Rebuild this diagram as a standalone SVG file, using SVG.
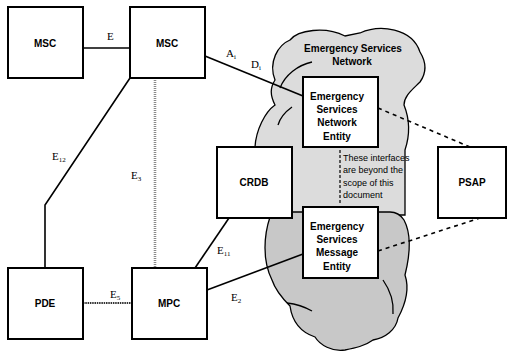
<svg xmlns="http://www.w3.org/2000/svg" width="510" height="354" viewBox="0 0 510 354">
<style>
.box{fill:#fff;stroke:#000;stroke-width:2}
.t{font-family:"Liberation Sans",Arial,sans-serif;font-weight:bold;font-size:10px;fill:#000;text-anchor:middle}
.s{font-family:"Liberation Sans",Arial,sans-serif;font-size:9px;fill:#000}
.l{font-family:"Liberation Serif","Times New Roman",serif;font-size:11px;fill:#000}
.sub{font-size:7px}
.ln{stroke:#000;stroke-width:1.6;fill:none}
.dash{stroke:#000;stroke-width:1.6;fill:none;stroke-dasharray:4 4}
.cl{stroke:#000;stroke-width:1.3}
</style>
<rect width="510" height="354" fill="#fff"/>
<g id="cloud">
<path class="cl" fill="#dcdcdc" d="M275,80 C268,62 278,45 290,40 C298,30 325,26 345,36 L360,33 C380,24 412,28 420,52 C428,65 425,75 420,82 C412,90 404,96 404,105 C410,120 410,135 405,150 L405,215 L270,215 C262,200 254,175 255,147 C256,130 265,112 275,105 C270,95 270,88 275,80 Z"/>
<path class="cl" fill="none" d="M280,88 C285,75 298,65 312,62"/>
<path class="cl" fill="none" d="M292,107 C285,112 280,118 278,125"/>
<path class="cl" fill="#c8c8c8" d="M270,217 C264,235 262,260 272,280 C276,292 284,300 290,306 C292,320 300,332 315,337 C320,345 332,352 345,350 C355,348 365,346 373,340 C385,338 396,330 398,318 C405,305 410,290 405,275 C410,255 412,235 404,220 C400,214 395,212 390,212 L275,212 Z"/>
<path class="cl" fill="none" d="M287,303 C296,304 305,307 312,311"/>
<path class="cl" fill="none" d="M383,280 C390,290 394,302 393,314"/>
</g>
<g id="connectors">
<line class="ln" x1="83" y1="48" x2="130" y2="48"/>
<text class="l" x="107" y="40">E</text>
<line class="ln" x1="205" y1="56" x2="303" y2="96"/>
<text class="l" x="226" y="57">A<tspan class="sub" dy="2">i</tspan></text>
<text class="l" x="251" y="68">D<tspan class="sub" dy="2">i</tspan></text>
<polyline class="ln" points="130,78 45,205 45,268"/>
<text class="l" x="52" y="160">E<tspan class="sub" dy="2">12</tspan></text>
<line x1="155" y1="78" x2="155" y2="268" stroke="#8a8a8a" stroke-width="2.6" stroke-dasharray="1 1"/>
<text class="l" x="131" y="179">E<tspan class="sub" dy="2">3</tspan></text>
<line x1="83" y1="303" x2="132" y2="303" stroke="#333" stroke-width="1.8" stroke-dasharray="1.5 0.8"/>
<text class="l" x="110" y="298">E<tspan class="sub" dy="2">5</tspan></text>
<line class="ln" x1="195" y1="268" x2="229" y2="218"/>
<text class="l" x="217" y="254">E<tspan class="sub" dy="2">11</tspan></text>
<line class="ln" x1="207" y1="290" x2="303" y2="254"/>
<text class="l" x="231" y="301">E<tspan class="sub" dy="2">2</tspan></text>
<line class="dash" x1="378" y1="108" x2="470" y2="147"/>
<line class="dash" x1="378" y1="251" x2="480" y2="218"/>
<line x1="340" y1="150" x2="340" y2="205" stroke="#000" stroke-width="1.2" stroke-dasharray="3 2"/>
</g>
<g id="cloud-labels">
<text class="t" x="353" y="52" font-size="9">Emergency Services</text>
<text class="t" x="352" y="65" font-size="9">Network</text>
<text class="s" x="343" y="161">These interfaces</text>
<text class="s" x="343" y="173">are beyond the</text>
<text class="s" x="343" y="186">scope of this</text>
<text class="s" x="343" y="198">document</text>
</g>
<g id="msc1"><rect class="box" x="8" y="7" width="75" height="71"/><text class="t" x="45" y="47">MSC</text></g>
<g id="msc2"><rect class="box" x="130" y="7" width="75" height="71"/><text class="t" x="167" y="47">MSC</text></g>
<g id="esne"><rect class="box" x="303" y="77" width="75" height="70"/>
<text class="t" x="337" y="100">Emergency</text><text class="t" x="337" y="113">Services</text><text class="t" x="337" y="126">Network</text><text class="t" x="337" y="140">Entity</text></g>
<g id="crdb"><rect class="box" x="217" y="147" width="75" height="71"/><text class="t" x="254" y="186">CRDB</text></g>
<g id="psap"><rect class="box" x="438" y="147" width="68" height="71"/><text class="t" x="472" y="186">PSAP</text></g>
<g id="esme"><rect class="box" x="303" y="207" width="75" height="71"/>
<text class="t" x="337" y="230">Emergency</text><text class="t" x="337" y="243">Services</text><text class="t" x="337" y="256">Message</text><text class="t" x="337" y="270">Entity</text></g>
<g id="pde"><rect class="box" x="8" y="268" width="75" height="71"/><text class="t" x="45" y="307">PDE</text></g>
<g id="mpc"><rect class="box" x="132" y="268" width="75" height="71"/><text class="t" x="169" y="307">MPC</text></g>
</svg>
